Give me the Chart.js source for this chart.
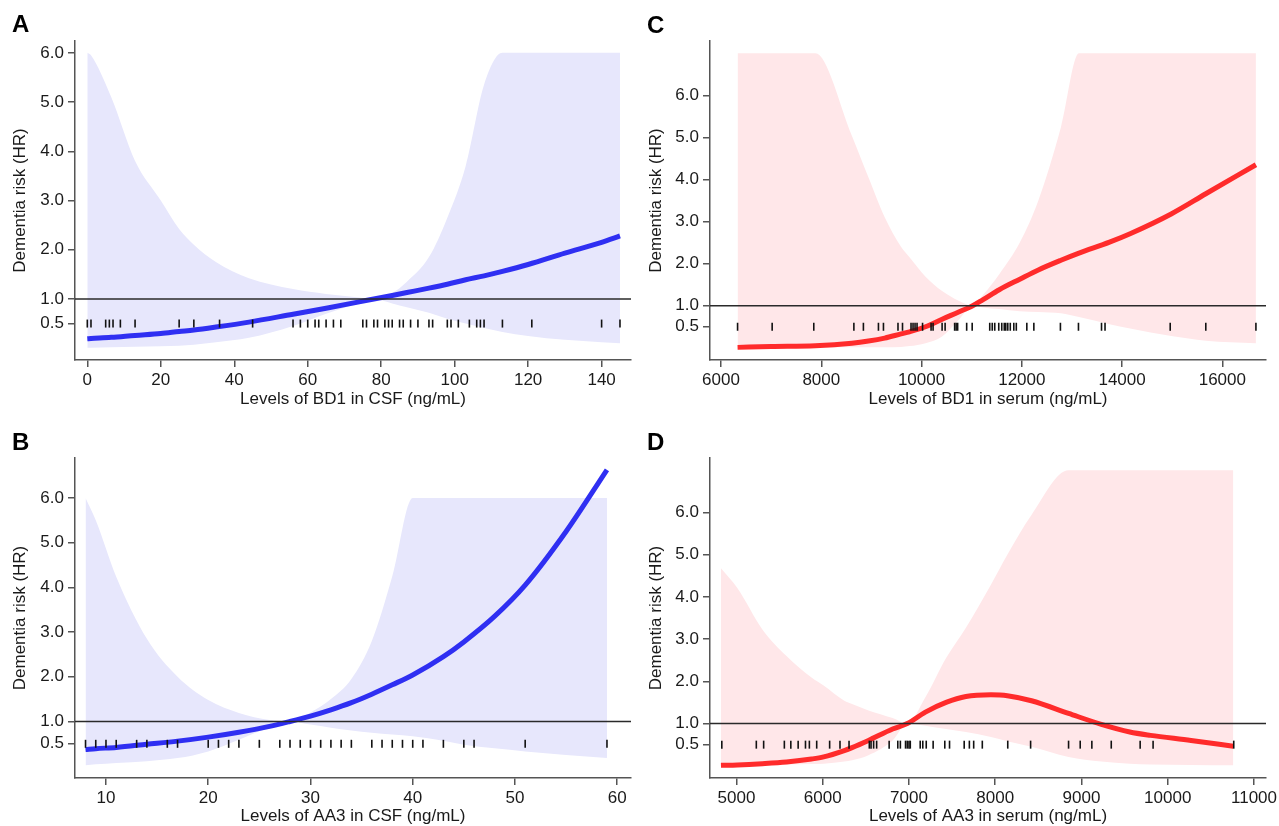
<!DOCTYPE html>
<html><head><meta charset="utf-8">
<script src="https://cdn.jsdelivr.net/npm/chart.js@4.4.1/dist/chart.umd.min.js"></script>
<style>
body{margin:0;background:#fff;width:1279px;height:826px;overflow:hidden;position:relative}
canvas{position:absolute}
</style></head><body>
<canvas id="cA" width="640" height="420" style="left:0;top:0;width:640px;height:420px"></canvas>
<canvas id="cC" width="639" height="420" style="left:640px;top:0;width:639px;height:420px"></canvas>
<canvas id="cB" width="640" height="406" style="left:0;top:420px;width:640px;height:406px"></canvas>
<canvas id="cD" width="639" height="406" style="left:640px;top:420px;width:639px;height:406px"></canvas>
<script>
// ---- Data ----
const yTicks = [0.5, 1, 2, 3, 4, 5, 6];
const yTitle = 'Dementia risk (HR)';

// Panel A: BD1 in CSF
const aX  = [0, 1, 6.5, 13, 20, 25, 29, 35, 44, 56, 65, 74, 78, 83, 87, 93, 98, 103, 108, 113, 120, 130, 140, 145];
const aHR = [0.19, 0.195, 0.22, 0.26, 0.30, 0.34, 0.37, 0.43, 0.53, 0.69, 0.81, 0.94, 1.0, 1.07, 1.13, 1.22, 1.30, 1.39, 1.47, 1.56, 1.70, 1.93, 2.15, 2.28];
const aLo = [0.01, 0.01, 0.02, 0.03, 0.04, 0.05, 0.07, 0.12, 0.21, 0.45, 0.70, 0.92, 1.0, 0.91, 0.83, 0.72, 0.60, 0.50, 0.41, 0.33, 0.25, 0.17, 0.12, 0.10];
const aHi = [6.0, 5.95, 5.1, 3.8, 3.0, 2.42, 2.1, 1.75, 1.42, 1.2, 1.1, 1.03, 1.0, 1.12, 1.35, 1.85, 2.65, 3.7, 5.35, 6.0, 6.0, 6.0, 6.0, 6.0];
const aRug = [0,1,5,6,7,9,13,25,29,36,45,56,58,60,62,63,65,67,69,75,76,78,79,81,82,83,85,86,88,90,93,94,98,99,101,104,106,107,108,113,121,140,145];
const aXTicks = [0, 20, 40, 60, 80, 100, 120, 140];
const aXTitle = 'Levels of BD1 in CSF (ng/mL)';

// Panel B: AA3 in CSF
const bX  = [8, 9, 11, 14, 17, 20, 23, 26, 28, 30, 32, 34, 36, 38, 40, 43, 45, 48, 51, 55, 59];
const bHR = [0.37, 0.39, 0.42, 0.49, 0.56, 0.65, 0.76, 0.89, 1.0, 1.12, 1.26, 1.42, 1.61, 1.82, 2.04, 2.45, 2.78, 3.35, 4.05, 5.25, 6.63];
const bLo = [0.02, 0.04, 0.07, 0.11, 0.18, 0.33, 0.59, 0.87, 1.0, 0.93, 0.86, 0.80, 0.75, 0.71, 0.67, 0.57, 0.48, 0.40, 0.33, 0.25, 0.18];
const bHi = [6.0, 5.5, 4.24, 2.85, 2.0, 1.48, 1.19, 1.03, 1.0, 1.2, 1.5, 1.95, 2.8, 4.25, 6.0, 6.0, 6.0, 6.0, 6.0, 6.0, 6.0];
const bRug = [8,9,10,11,13,14,16,17,20,21,22,23,25,27,28,29,30,31,32,33,34,36,37,38,39,40,41,43,45,46,51,59];
const bXTicks = [10, 20, 30, 40, 50, 60];
const bXTitle = 'Levels of AA3 in CSF (ng/mL)';

// Panel C: BD1 in serum
const cX  = [6330, 7000, 7880, 8610, 8940, 9265, 9590, 9760, 10080, 10410, 10740, 11020, 11220, 11550, 11960, 12330, 12780, 13140, 13750, 14160, 14980, 15670, 16670];
const cHR = [0.01, 0.03, 0.05, 0.11, 0.16, 0.23, 0.33, 0.38, 0.50, 0.68, 0.85, 1.0, 1.14, 1.38, 1.63, 1.85, 2.08, 2.25, 2.51, 2.71, 3.18, 3.66, 4.35];
const cLo = [0.01, 0.01, 0.01, 0.01, 0.01, 0.01, 0.02, 0.04, 0.11, 0.27, 0.66, 1.0, 0.96, 0.92, 0.87, 0.85, 0.82, 0.73, 0.56, 0.46, 0.28, 0.17, 0.11];
const cHi = [7, 7, 7, 5.04, 4.05, 3.1, 2.4, 2.15, 1.69, 1.35, 1.12, 1.0, 1.25, 1.75, 2.5, 3.5, 5.24, 7, 7, 7, 7, 7, 7];
const cRug = [6330,7020,7850,8650,8840,9140,9240,9530,9620,9790,9830,9870,9910,10020,10190,10230,10410,10470,10660,10690,10720,10900,11010,11360,11410,11460,11540,11600,11650,11680,11720,11770,11840,11890,12100,12240,12770,13130,13590,13660,14960,15670,16670];
const cXTicks = [6000, 8000, 10000, 12000, 14000, 16000];
const cXTitle = 'Levels of BD1 in serum (ng/mL)';

// Panel D: AA3 in serum
const dX  = [4820, 5010, 5300, 5580, 5870, 6010, 6250, 6340, 6530, 6810, 6980, 7190, 7430, 7660, 7950, 8140, 8420, 8850, 9230, 9560, 9800, 10270, 10760];
const dHR = [0.01, 0.02, 0.05, 0.09, 0.16, 0.21, 0.36, 0.43, 0.60, 0.87, 1.0, 1.27, 1.50, 1.64, 1.68, 1.66, 1.54, 1.24, 0.98, 0.80, 0.72, 0.60, 0.46];
const dLo = [0.01, 0.01, 0.02, 0.03, 0.04, 0.05, 0.10, 0.13, 0.25, 0.60, 1.0, 0.95, 0.87, 0.80, 0.68, 0.58, 0.45, 0.21, 0.10, 0.05, 0.03, 0.02, 0.01];
const dHi = [4.68, 4.21, 3.23, 2.6, 2.09, 1.9, 1.54, 1.46, 1.31, 1.13, 1.0, 1.62, 2.55, 3.27, 4.29, 5.0, 5.94, 7, 7, 7, 7, 7, 7];
const dRug = [4830,5230,5315,5555,5630,5715,5800,5845,5930,6080,6200,6305,6540,6560,6590,6625,6770,6870,6900,6960,6980,7000,7015,7130,7160,7200,7280,7415,7470,7640,7700,7750,7850,8145,8410,8850,8985,9120,9345,9680,9830,10765];
const dXTicks = [5000, 6000, 7000, 8000, 9000, 10000, 11000];
const dXTitle = 'Levels of AA3 in serum (ng/mL)';

// ---- Styling ----
const FAM = '"Liberation Sans", Arial, Helvetica, sans-serif';
const tickFont = {family: FAM, size: 17};
const txt = '#1a1a1a';
const axisCol = '#555';
const BLUE = '#2f2ff2', BLUE_BAND = 'rgb(231,231,252)';
const RED = '#ff2b2b', RED_BAND = 'rgb(255,231,233)';

const letterPlugin = {
  id: 'letter',
  afterDraw(chart, args, opts) {
    const ctx = chart.ctx;
    ctx.save();
    ctx.font = 'bold 24px ' + FAM;
    ctx.fillStyle = '#000';
    ctx.textBaseline = 'alphabetic';
    ctx.textAlign = 'left';
    ctx.fillText(opts.text, opts.x, opts.y);
    ctx.restore();
  }
};

function pts(xs, ys) { return xs.map((x, i) => ({x: x, y: ys[i]})); }

function panel(id, o) {
  const datasets = [
    {data: o.rug.map(x => ({x: x, y: 0.5})), showLine: false, pointStyle: 'line', pointRotation: 90,
     pointRadius: 4, pointBorderWidth: 1.6, pointBorderColor: '#111', pointBackgroundColor: '#111', order: 0},
    {data: [{x: o.xMin, y: 1}, {x: o.xMax, y: 1}], borderColor: '#2a2a2a', borderWidth: 1.6, pointRadius: 0, order: 1},
    {data: pts(o.x, o.hr), borderColor: o.line, borderWidth: 5, pointRadius: 0,
     cubicInterpolationMode: 'monotone', borderCapStyle: 'butt', order: 2},
    {data: pts(o.x, o.lo), borderColor: 'rgba(0,0,0,0)', borderWidth: 0, pointRadius: 0,
     cubicInterpolationMode: 'monotone', fill: false, order: 3},
    {data: pts(o.x, o.hi), borderColor: 'rgba(0,0,0,0)', borderWidth: 0, pointRadius: 0,
     cubicInterpolationMode: 'monotone', fill: 3, backgroundColor: o.band, order: 4}
  ];
  const gridCfg = {drawOnChartArea: false, drawTicks: true, tickLength: 7, tickColor: axisCol, lineWidth: 1.5};
  const borderCfg = {display: true, color: axisCol, width: 1.5};
  new Chart(document.getElementById(id), {
    type: 'line',
    data: {datasets: datasets},
    options: {
      responsive: false, animation: false, events: [],
      layout: {padding: {left: 0, top: o.padT, right: o.padR, bottom: 0}},
      plugins: {legend: {display: false}, tooltip: {enabled: false},
                letter: {text: o.letter, x: o.lx, y: o.ly}},
      scales: {
        x: {type: 'linear', min: o.xMin, max: o.xMax,
            afterBuildTicks: s => { s.ticks = o.xTicks.map(v => ({value: v})); },
            ticks: {font: tickFont, color: txt, padding: 3, maxRotation: 0, autoSkip: false,
                    callback: v => String(v)},
            grid: gridCfg, border: borderCfg,
            title: {display: true, text: o.xTitle, font: tickFont, color: txt,
                    padding: {top: 0, bottom: o.xTitlePadB}},
            afterFit: s => { s.height = o.xH; s.paddingLeft = 0; s.paddingRight = 0; }},
        y: {type: 'linear', min: o.yMin, max: o.yMax,
            afterBuildTicks: s => { s.ticks = yTicks.map(v => ({value: v})); },
            ticks: {font: tickFont, color: txt, padding: 4, callback: v => Number(v).toFixed(1)},
            grid: gridCfg, border: borderCfg,
            title: {display: true, text: yTitle, font: tickFont, color: txt,
                    padding: {top: o.yTitlePad, bottom: 0}},
            afterFit: s => { s.width = o.yW; s.paddingTop = 0; s.paddingBottom = 0; }}
      }
    },
    plugins: [letterPlugin]
  });
}

panel('cA', {x: aX, hr: aHR, lo: aLo, hi: aHi, rug: aRug, xTicks: aXTicks, xTitle: aXTitle,
  line: BLUE, band: BLUE_BAND, xMin: -3.35, xMax: 148, yMin: -0.24, yMax: 6.24,
  padT: 41, padR: 9, yW: 75, xH: 60, xTitlePadB: 10, yTitlePad: 10.3, letter: 'A', lx: 12, ly: 32});
panel('cC', {x: cX, hr: cHR, lo: cLo, hi: cHi, rug: cRug, xTicks: cXTicks, xTitle: cXTitle,
  line: RED, band: RED_BAND, xMin: 5780, xMax: 16871, yMin: -0.29, yMax: 7.29,
  padT: 41, padR: 13, yW: 70, xH: 60, xTitlePadB: 10, yTitlePad: 5.8, letter: 'C', lx: 7, ly: 32.5});
panel('cB', {x: bX, hr: bHR, lo: bLo, hi: bHi, rug: bRug, xTicks: bXTicks, xTitle: bXTitle,
  line: BLUE, band: BLUE_BAND, xMin: 6.97, xMax: 61.35, yMin: -0.265, yMax: 6.895,
  padT: 38, padR: 9, yW: 75, xH: 48, xTitlePadB: -1, yTitlePad: 10.3, letter: 'B', lx: 12, ly: 30});
panel('cD', {x: dX, hr: dHR, lo: dLo, hi: dHi, rug: dRug, xTicks: dXTicks, xTitle: dXTitle,
  line: RED, band: RED_BAND, xMin: 4693, xMax: 11139, yMin: -0.29, yMax: 7.29,
  padT: 38, padR: 13, yW: 70, xH: 48, xTitlePadB: -1, yTitlePad: 5.8, letter: 'D', lx: 7, ly: 30});
</script>
</body></html>
